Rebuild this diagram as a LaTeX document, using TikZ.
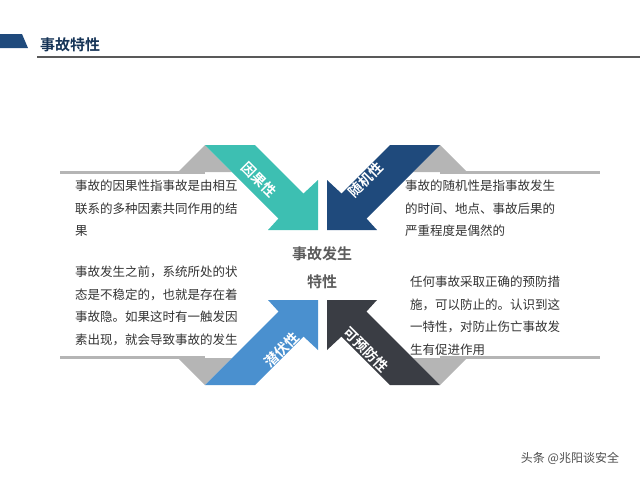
\documentclass[tikz,border=0pt]{standalone}
\usepackage{fontspec}
\newfontfamily\cjk{Noto Sans CJK SC}
\newfontfamily\cjkb{Noto Sans CJK SC Bold}
\definecolor{teal1}{HTML}{3DBFB2}
\definecolor{navy1}{HTML}{1F4A7C}
\definecolor{blue1}{HTML}{4A90CF}
\definecolor{dark1}{HTML}{3A3D44}
\definecolor{gray1}{HTML}{B5B5B5}
\definecolor{txt}{HTML}{333333}
\begin{document}
\begin{tikzpicture}[x=1pt,y=-1pt,
  body/.style={font=\cjk\fontsize{12.5}{22.5}\selectfont,text=txt,anchor=north west,align=left,inner sep=0pt},
  lab/.style={font=\cjkb\fontsize{14}{14}\selectfont,text=white,inner sep=0pt},
  shade/.style={fill=gray1}]
\useasboundingbox (0,0) rectangle (640,480);
% header
\fill[navy1] (0,34) -- (22,34) -- (28,48) -- (0,48) -- cycle;
\node[font=\cjkb\fontsize{15}{15}\selectfont,text=navy1!70!black,anchor=west,inner sep=0pt] (title) at (40,45) {事故特性};
\draw[line width=1.5pt,color=gray!70!black] (37,57) -- (640,57);
% gray shadows
\fill[shade] (178,172) -- (205,145) -- (232,172) -- cycle;
\fill[shade] (60,171) rectangle (205,174);
\fill[shade] (413,172) -- (440,145) -- (467,172) -- cycle;
\fill[shade] (440,171) rectangle (600,174);
\fill[shade] (178,358) -- (205,385) -- (232,358) -- cycle;
\fill[shade] (60,356) rectangle (205,359);
\fill[shade] (413,358) -- (440,385) -- (467,358) -- cycle;
\fill[shade] (440,356) rectangle (600,359);
% arrows
\fill[teal1] (205,145) -- (255,145) -- (303.5,193.5) -- (318,180) -- (318,230) -- (268,230) -- (278.5,218.5) -- cycle;
\fill[navy1] (440,145) -- (390,145) -- (341.5,193.5) -- (327,180) -- (327,230) -- (377,230) -- (366.5,218.5) -- cycle;
\fill[blue1] (205,385) -- (255,385) -- (303.5,336.5) -- (318,350) -- (318,300) -- (268,300) -- (278.5,311.5) -- cycle;
\fill[dark1] (440,385) -- (390,385) -- (341.5,336.5) -- (327,350) -- (327,300) -- (377,300) -- (366.5,311.5) -- cycle;
\node[lab,rotate=-45] (l1) at (259,180) {因果性};
\node[lab,rotate=45] (l2) at (366,180) {随机性};
\node[lab,rotate=45] (l3) at (282,350) {潜伏性};
\node[lab,rotate=-45] (l4) at (366,350) {可预防性};
% center
\node[font=\cjkb\fontsize{15}{28}\selectfont,text=txt!80!white,align=center,inner sep=0pt] (c) at (322,268) {事故发生\\特性};
% texts
\node[body] (t1) at (75,180) {事故的因果性指事故是由相互\\联系的多种因素共同作用的结\\果};
\node[body] (t2) at (75,266) {事故发生之前，系统所处的状\\态是不稳定的，也就是存在着\\事故隐。如果这时有一触发因\\素出现，就会导致事故的发生};
\node[body] (t3) at (405,180) {事故的随机性是指事故发生\\的时间、地点、事故后果的\\严重程度是偶然的};
\node[body] (t4) at (410,276) {任何事故采取正确的预防措\\施，可以防止的。认识到这\\一特性，对防止伤亡事故发\\生有促进作用};
\node[font=\cjk\fontsize{12}{12}\selectfont,text=gray!60!black,inner sep=0pt] (wm) at (570,458) {头条 @兆阳谈安全};
\end{tikzpicture}
\end{document}
